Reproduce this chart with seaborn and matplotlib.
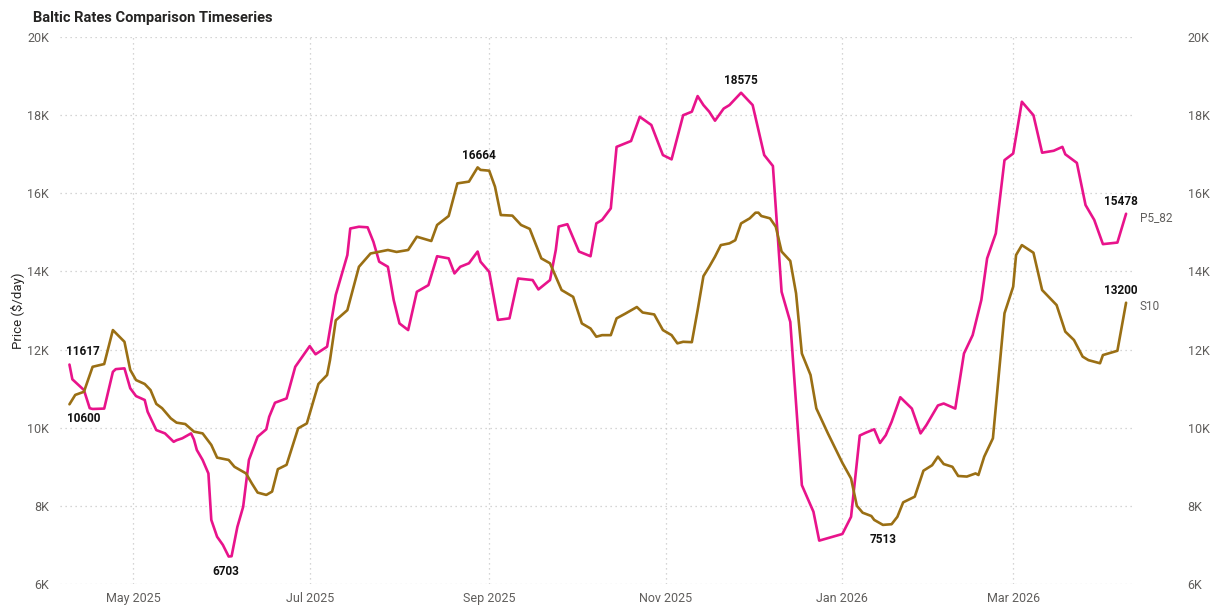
import pandas as pd
import matplotlib
matplotlib.use("Agg")
import matplotlib.pyplot as plt
import matplotlib.dates as mdates
from matplotlib.ticker import FuncFormatter, MultipleLocator
import seaborn as sns

# P5_82 (pink)
p5_dates = [
    "2025-04-09", "2025-04-10", "2025-04-14", "2025-04-16", "2025-04-17", "2025-04-21",
    "2025-04-24", "2025-04-25", "2025-04-28", "2025-04-30", "2025-05-02", "2025-05-05",
    "2025-05-06", "2025-05-09", "2025-05-12", "2025-05-15", "2025-05-16", "2025-05-18",
    "2025-05-21", "2025-05-22", "2025-05-23", "2025-05-25", "2025-05-27", "2025-05-28",
    "2025-05-30", "2025-06-01", "2025-06-03", "2025-06-04", "2025-06-06", "2025-06-08",
    "2025-06-10", "2025-06-13", "2025-06-16", "2025-06-17", "2025-06-19", "2025-06-23",
    "2025-06-26", "2025-07-01", "2025-07-03", "2025-07-07", "2025-07-10", "2025-07-14",
    "2025-07-15", "2025-07-18", "2025-07-21", "2025-07-23", "2025-07-25", "2025-07-28",
    "2025-07-30", "2025-08-01", "2025-08-04", "2025-08-07", "2025-08-11", "2025-08-14",
    "2025-08-18", "2025-08-20", "2025-08-22", "2025-08-25", "2025-08-28", "2025-08-29",
    "2025-09-01", "2025-09-04", "2025-09-05", "2025-09-08", "2025-09-11", "2025-09-16",
    "2025-09-18", "2025-09-22", "2025-09-24", "2025-09-25", "2025-09-28", "2025-10-02",
    "2025-10-06", "2025-10-08", "2025-10-10", "2025-10-13", "2025-10-15", "2025-10-20",
    "2025-10-23", "2025-10-27", "2025-10-31", "2025-11-03", "2025-11-07", "2025-11-10",
    "2025-11-12", "2025-11-14", "2025-11-16", "2025-11-18", "2025-11-21", "2025-11-23",
    "2025-11-27", "2025-12-01", "2025-12-03", "2025-12-05", "2025-12-08", "2025-12-11",
    "2025-12-14", "2025-12-18", "2025-12-22", "2025-12-24", "2026-01-01", "2026-01-04",
    "2026-01-07", "2026-01-09", "2026-01-12", "2026-01-14", "2026-01-16", "2026-01-18",
    "2026-01-21", "2026-01-25", "2026-01-28", "2026-01-30", "2026-02-01", "2026-02-03",
    "2026-02-05", "2026-02-09", "2026-02-12", "2026-02-15", "2026-02-18", "2026-02-20",
    "2026-02-23", "2026-02-26", "2026-03-01", "2026-03-04", "2026-03-08", "2026-03-11",
    "2026-03-15", "2026-03-18", "2026-03-19", "2026-03-23", "2026-03-26", "2026-03-29",
    "2026-04-01", "2026-04-06", "2026-04-09",
]
p5_values = [
    11617, 11240, 10965, 10500, 10480, 10490,
    11430, 11500, 11520, 11010, 10810, 10710,
    10410, 9940, 9855, 9640, 9680, 9730,
    9855, 9700, 9430, 9175, 8830, 7640,
    7210, 7000, 6703, 6710, 7460, 7975,
    9175, 9770, 9960, 10280, 10640, 10750,
    11560, 12090, 11880, 12075, 13400, 14420,
    15100, 15145, 15130, 14760, 14250, 14120,
    13270, 12670, 12500, 13480, 13650, 14390,
    14335, 13950, 14120, 14210, 14510, 14250,
    13990, 12760, 12770, 12800, 13820, 13780,
    13540, 13780, 14550, 15150, 15210, 14510,
    14390, 15230, 15320, 15615, 17190, 17340,
    17960, 17750, 16980, 16870, 18000, 18090,
    18490, 18260, 18090, 17860, 18170, 18260,
    18575, 18260, 17620, 16980, 16700, 13480,
    12710, 8530, 7850, 7110, 7280, 7720,
    9800, 9870, 9960, 9610, 9810, 10150,
    10780, 10490, 9855, 10065, 10320, 10570,
    10620, 10490, 11900, 12370, 13270, 14335,
    14975, 16850, 17020, 18345, 18000, 17040,
    17090, 17190, 17000, 16780, 15700, 15320,
    14700, 14740, 15478,
]

# S10 (brown)
s10_dates = [
    "2025-04-09", "2025-04-11", "2025-04-14", "2025-04-17", "2025-04-21", "2025-04-24",
    "2025-04-28", "2025-04-30", "2025-05-02", "2025-05-05", "2025-05-07", "2025-05-09",
    "2025-05-11", "2025-05-14", "2025-05-16", "2025-05-19", "2025-05-22", "2025-05-25",
    "2025-05-28", "2025-05-30", "2025-06-03", "2025-06-05", "2025-06-09", "2025-06-11",
    "2025-06-13", "2025-06-16", "2025-06-18", "2025-06-20", "2025-06-23", "2025-06-27",
    "2025-06-30", "2025-07-04", "2025-07-07", "2025-07-08", "2025-07-10", "2025-07-14",
    "2025-07-18", "2025-07-22", "2025-07-28", "2025-07-31", "2025-08-04", "2025-08-07",
    "2025-08-12", "2025-08-14", "2025-08-18", "2025-08-21", "2025-08-25", "2025-08-28",
    "2025-08-29", "2025-09-01", "2025-09-03", "2025-09-05", "2025-09-09", "2025-09-12",
    "2025-09-15", "2025-09-19", "2025-09-22", "2025-09-26", "2025-09-30", "2025-10-03",
    "2025-10-06", "2025-10-08", "2025-10-10", "2025-10-13", "2025-10-15", "2025-10-18",
    "2025-10-22", "2025-10-24", "2025-10-28", "2025-10-31", "2025-11-03", "2025-11-05",
    "2025-11-07", "2025-11-10", "2025-11-12", "2025-11-14", "2025-11-16", "2025-11-18",
    "2025-11-20", "2025-11-23", "2025-11-25", "2025-11-27", "2025-11-30", "2025-12-02",
    "2025-12-03", "2025-12-04", "2025-12-07", "2025-12-09", "2025-12-11", "2025-12-14",
    "2025-12-16", "2025-12-18", "2025-12-21", "2025-12-23", "2025-12-27", "2026-01-01",
    "2026-01-04", "2026-01-06", "2026-01-08", "2026-01-11", "2026-01-12", "2026-01-15",
    "2026-01-18", "2026-01-20", "2026-01-22", "2026-01-26", "2026-01-29", "2026-02-01",
    "2026-02-03", "2026-02-05", "2026-02-08", "2026-02-10", "2026-02-13", "2026-02-16",
    "2026-02-17", "2026-02-19", "2026-02-22", "2026-02-26", "2026-03-01", "2026-03-02",
    "2026-03-04", "2026-03-08", "2026-03-11", "2026-03-16", "2026-03-19", "2026-03-22",
    "2026-03-25", "2026-03-27", "2026-03-31", "2026-04-01", "2026-04-06", "2026-04-09",
]
s10_values = [
    10600, 10840, 10920, 11560, 11630, 12500,
    12200, 11480, 11220, 11120, 10965, 10610,
    10500, 10240, 10130, 10095, 9900, 9855,
    9560, 9235, 9175, 9000, 8830, 8575,
    8340, 8280, 8365, 8940, 9050, 9985,
    10110, 11120, 11350, 11730, 12750, 13010,
    14120, 14460, 14550, 14500, 14550, 14890,
    14780, 15190, 15420, 16255, 16300, 16664,
    16600, 16580, 16170, 15445, 15430, 15190,
    15090, 14335, 14210, 13525, 13350, 12670,
    12540, 12330, 12370, 12370, 12800, 12920,
    13090, 12950, 12900, 12500, 12370, 12160,
    12200, 12190, 13010, 13880, 14120, 14380,
    14675, 14720, 14800, 15230, 15360, 15505,
    15505, 15420, 15360, 15145, 14510, 14270,
    13440, 11900, 11350, 10495, 9855, 9100,
    8700, 8000, 7825, 7740, 7640, 7513,
    7530, 7720, 8090, 8235, 8900, 9040,
    9260, 9070, 9000, 8765, 8750, 8830,
    8790, 9260, 9730, 12930, 13610, 14420,
    14675, 14480, 13525, 13140, 12460, 12245,
    11820, 11730, 11650, 11860, 11970, 13200,
]

series_names = ["P5_82", "S10"]
colors = {"P5_82": "#E8138B", "S10": "#9A6F14"}

df = pd.concat([
    pd.DataFrame({"date": pd.to_datetime(p5_dates), "price": p5_values, "series": "P5_82"}),
    pd.DataFrame({"date": pd.to_datetime(s10_dates), "price": s10_values, "series": "S10"}),
])

sns.set_style("white")
plt.rcParams["font.family"] = ["Roboto", "DejaVu Sans"]

fig = plt.figure(figsize=(12.13, 6.08), dpi=100)
ax = fig.add_axes([0.0495, 0.0395, 0.886, 0.8995])

sns.lineplot(data=df, x="date", y="price", hue="series", palette=colors,
             linewidth=1.9, ax=ax, legend=False, sort=True, estimator=None)

ax.set_xlim(pd.Timestamp("2025-04-05 18:00"), pd.Timestamp("2026-04-12"))
ax.set_ylim(6000, 20000)
ax.yaxis.set_major_locator(MultipleLocator(2000))
kfmt = FuncFormatter(lambda v, p: f"{int(v / 1000)}K")
ax.yaxis.set_major_formatter(kfmt)
ax.xaxis.set_major_locator(mdates.MonthLocator(bymonth=[1, 3, 5, 7, 9, 11]))
ax.xaxis.set_major_formatter(mdates.DateFormatter("%b %Y"))

grid_kw = dict(color="#c8c8c8", linestyle=(0, (1, 3)), linewidth=0.9)
ax.grid(True, which="major", axis="both", **grid_kw)
for s in ax.spines.values():
    s.set_visible(False)
ax.tick_params(axis="both", length=0, labelsize=9, labelcolor="#605E5C")
ax.tick_params(axis="y", pad=8)
ax.tick_params(axis="x", pad=6)
ax.set_xlabel("")
ax.set_ylabel("Price ($/day)", fontsize=9.5, color="#252423")
ax.yaxis.set_label_coords(-0.033, 0.5)

ax2 = ax.twinx()
ax2.set_ylim(6000, 20000)
ax2.yaxis.set_major_locator(MultipleLocator(2000))
ax2.yaxis.set_major_formatter(kfmt)
ax2.tick_params(axis="y", length=0, labelsize=9, labelcolor="#605E5C", pad=38)
for s in ax2.spines.values():
    s.set_visible(False)

# data labels
lab_kw = dict(textcoords="offset points", ha="center", fontsize=8.5,
              fontweight="bold", color="#111111")
labels = [
    ("P5_82", "2025-04-09", 11617, (10, 7)),
    ("S10", "2025-04-09", 10600, (10, -13)),
    ("P5_82", "2025-06-03", 6703, (-2, -13)),
    ("S10", "2025-08-28", 16664, (1, 6)),
    ("P5_82", "2025-11-27", 18575, (0, 6)),
    ("S10", "2026-01-15", 7513, (0, -13)),
    ("P5_82", "2026-04-09", 15478, (-4, 6)),
    ("S10", "2026-04-09", 13200, (-4, 6)),
]
for name, d, v, off in labels:
    ax.annotate(f"{v}", (pd.Timestamp(d), v), xytext=off, **lab_kw)

# series names at line ends
ax.annotate("P5_82", (pd.Timestamp("2026-04-09"), 15478), xytext=(10, -3),
            textcoords="offset points", ha="left", va="center", fontsize=8.5,
            color="#605E5C", annotation_clip=False)
ax.annotate("S10", (pd.Timestamp("2026-04-09"), 13200), xytext=(10, -3),
            textcoords="offset points", ha="left", va="center", fontsize=8.5,
            color="#605E5C", annotation_clip=False)

fig.text(0.027, 0.971, "Baltic Rates Comparison Timeseries", fontsize=10.5,
         fontweight="bold", color="#252423", va="center", ha="left")

fig.savefig("out.png", dpi=100)
